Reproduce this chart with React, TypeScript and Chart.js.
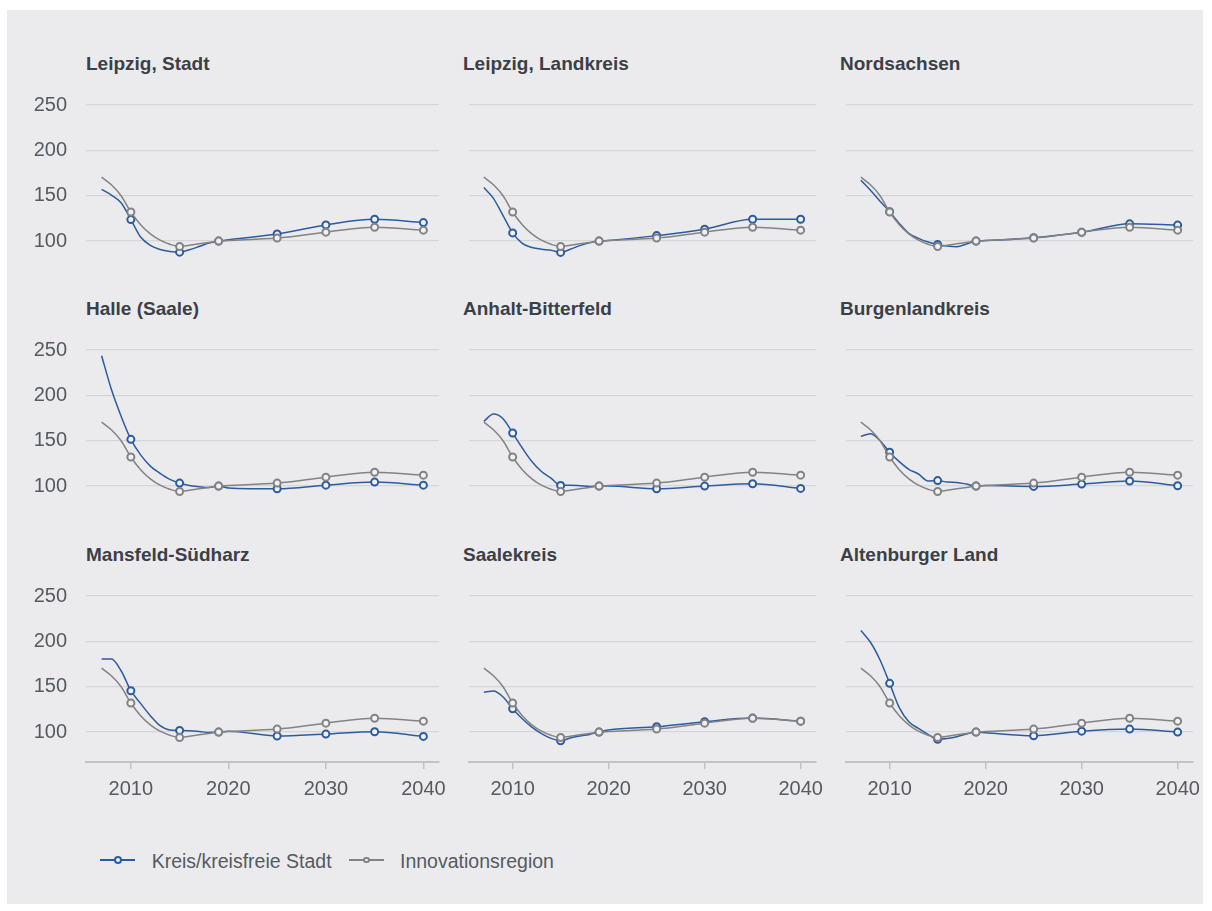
import React, { useEffect, useRef } from "react";
import { Chart, registerables } from "chart.js";

Chart.register(...registerables);

// ---------- data ----------
const years = [2007, 2008, 2009, 2010, 2011, 2012, 2013, 2014, 2015, 2016, 2017, 2018, 2019, 2020, 2025, 2030, 2035, 2040];
const markerYears = [2010, 2015, 2019, 2025, 2030, 2035, 2040];
const xTicks = [2010, 2020, 2030, 2040];
const yTicks = [100, 150, 200, 250];

const innovationsregion = [170.5, 162, 150, 132, 118, 108, 101, 96.5, 94, 95.5, 97, 98.5, 100, 100.6, 103.3, 109.8, 115.2, 112];

const leipzigStadt = [157, 150.7, 142.2, 123.7, 104.4, 95.2, 90.7, 88.5, 87.8, 90.4, 94, 97.8, 100, 101.5, 107.8, 117.8, 124, 120.4];
const leipzigLandkreis = [159, 147, 128, 109, 97.4, 93, 91, 90, 87.5, 91, 95, 98, 100, 100.7, 106, 113, 124, 124];
const nordsachsen = [167, 156, 144, 132.4, 119.5, 108.5, 103, 99, 96.3, 94.5, 93.8, 96.7, 100, 100.5, 103.7, 109.6, 119, 117.6];
const halle = [243.7, 206.7, 177, 151.5, 134.4, 122, 114, 107.4, 103.3, 100.5, 99.3, 98.5, 100, 98, 97, 101, 104.4, 101];
const anhaltBitterfeld = [171.3, 179.4, 174.3, 158.5, 142, 127, 116, 108.8, 100.7, 101, 100.4, 99.6, 100, 100, 97, 100, 102.6, 97.4];
const burgenlandkreis = [154.8, 157.8, 150, 137.4, 127, 118.5, 113.3, 105.6, 106, 104.4, 104, 102.2, 100, 100.5, 99.6, 102.2, 105.6, 100.4];
const mansfeldSuedharz = [180.5, 180.5, 167.6, 145.6, 131.6, 118, 107, 102.2, 101.8, 101.5, 100.7, 99.6, 100, 101, 95.6, 97.8, 100.4, 95.2];
const saalekreis = [143.8, 145.2, 138.6, 125.7, 114.7, 105.5, 98.2, 93, 90.4, 93.4, 95.6, 97.4, 100, 102.2, 105.9, 111.4, 115.4, 112];
const altenburgerLand = [212, 199, 179.4, 153.7, 127, 111.4, 104, 97.4, 92, 93, 94.9, 97.8, 100, 99.3, 96, 101, 103.3, 100];

const panelTitles = [
  "Leipzig, Stadt", "Leipzig, Landkreis", "Nordsachsen",
  "Halle (Saale)", "Anhalt-Bitterfeld", "Burgenlandkreis",
  "Mansfeld-Südharz", "Saalekreis", "Altenburger Land",
];
const panelValues = [
  leipzigStadt, leipzigLandkreis, nordsachsen,
  halle, anhaltBitterfeld, burgenlandkreis,
  mansfeldSuedharz, saalekreis, altenburgerLand,
];
const seriesLabels = ["Kreis/kreisfreie Stadt", "Innovationsregion"];

// ---------- styles ----------
const BLUE = "#2c5c9f";
const GREY = "#838383";
const BG = "#ebebee";
const TEXT = "#555a60";
const TITLE = "#3b4046";
const FONT = "'Liberation Sans', Arial, sans-serif";

const COL_LEFT = [86, 463, 840];
const ROW_TOP = [104.5, 350, 596];
const TITLE_TOP = [53.5, 299.2, 545];
const PLOT_W = 353;
const PLOT_H = 166;
const PAD_T = 14;
const PAD_B = 8;
const PAD_R = 34;
const Y_W = 70;
const X_H = 44;
const X_MIN = 2005.4;
const X_MAX = 2041.6;
const Y_MIN = 67;
const Y_MAX = 250;

function Panel({ index }: { index: number }) {
  const ref = useRef<HTMLCanvasElement | null>(null);
  const row = Math.floor(index / 3);
  const col = index % 3;
  const showY = col === 0;
  const showX = row === 2;
  const yW = showY ? Y_W : 0;
  const xH = showX ? X_H : 0;
  const width = yW + PLOT_W + PAD_R;
  const height = PAD_T + PLOT_H + xH + PAD_B;
  const left = COL_LEFT[col] - yW;
  const top = ROW_TOP[row] - PAD_T;

  useEffect(() => {
    if (!ref.current) return;
    const values = panelValues[index];
    const radius = (ctx: any) => (markerYears.includes(years[ctx.dataIndex]) ? 3.5 : 0);
    const mk = (label: string, vals: number[], color: string, order: number) => ({
      label,
      data: years.map((x, i) => ({ x, y: vals[i] })),
      borderColor: color,
      borderWidth: 1.5,
      pointRadius: radius,
      pointHoverRadius: radius,
      pointBorderWidth: 2,
      pointBorderColor: color,
      pointBackgroundColor: "#f1f1f3",
      cubicInterpolationMode: "monotone" as const,
      fill: false,
      order,
    });
    const tickFont = { family: FONT, size: 20 };
    const chart = new Chart(ref.current, {
      type: "line",
      data: {
        datasets: [
          mk(seriesLabels[0], values, BLUE, 1),
          mk(seriesLabels[1], innovationsregion, GREY, 0),
        ],
      },
      options: {
        animation: false,
        responsive: false,
        maintainAspectRatio: false,
        events: [],
        layout: { padding: { top: PAD_T, bottom: PAD_B, left: 0, right: PAD_R } },
        plugins: {
          legend: { display: false },
          tooltip: { enabled: false },
          title: { display: false },
        },
        scales: {
          x: {
            type: "linear",
            min: X_MIN,
            max: X_MAX,
            afterBuildTicks: (s: any) => {
              s.ticks = xTicks.map((v) => ({ value: v }));
            },
            afterFit: (s: any) => {
              s.height = xH;
              s.paddingLeft = 0;
              s.paddingRight = 0;
            },
            grid: {
              display: showX,
              drawOnChartArea: false,
              drawTicks: true,
              tickLength: 7,
              color: "#c3c3c7",
              lineWidth: 1.5,
            },
            border: { display: showX, color: "#c3c3c7", width: 2 },
            ticks: {
              display: showX,
              padding: 8,
              font: tickFont,
              color: TEXT,
              maxRotation: 0,
              autoSkip: false,
              callback: (v: any) => String(v),
            },
          },
          y: {
            type: "linear",
            min: Y_MIN,
            max: Y_MAX,
            afterBuildTicks: (s: any) => {
              s.ticks = yTicks.map((v) => ({ value: v }));
            },
            afterFit: (s: any) => {
              s.width = yW;
              s.paddingTop = 0;
              s.paddingBottom = 0;
            },
            grid: { color: "#d6d6da", lineWidth: 1.2, drawTicks: false },
            border: { display: false },
            ticks: {
              display: showY,
              padding: 19,
              font: tickFont,
              color: TEXT,
              callback: (v: any) => String(v),
            },
          },
        },
      },
    } as any);
    return () => chart.destroy();
  }, [index]);

  return (
    <>
      <div
        style={{
          position: "absolute",
          left: COL_LEFT[col],
          top: TITLE_TOP[row],
          fontFamily: FONT,
          fontWeight: "bold",
          fontSize: 19,
          lineHeight: "19px",
          color: TITLE,
          whiteSpace: "nowrap",
        }}
      >
        {panelTitles[index]}
      </div>
      <canvas
        ref={ref}
        width={width}
        height={height}
        style={{ position: "absolute", left, top, width, height }}
      />
    </>
  );
}

function LegendItem({ x, textX, color, r, label }: { x: number; textX: number; color: string; r: number; label: string }) {
  return (
    <>
      <div style={{ position: "absolute", left: x, top: 859, width: 35, height: 2, background: color }} />
      <div
        style={{
          position: "absolute",
          left: x + 17.5 - r,
          top: 860 - r,
          width: 2 * r - 4,
          height: 2 * r - 4,
          borderRadius: "50%",
          border: `2px solid ${color}`,
          background: "#f1f1f3",
        }}
      />
      <div
        style={{
          position: "absolute",
          left: textX,
          top: 850.5,
          fontFamily: FONT,
          fontSize: 19.5,
          lineHeight: "20px",
          color: TEXT,
          whiteSpace: "nowrap",
        }}
      >
        {label}
      </div>
    </>
  );
}

export default function App() {
  return (
    <div style={{ position: "absolute", left: 0, top: 0, width: 1212, height: 911, background: "#ffffff", overflow: "hidden" }}>
      <div style={{ position: "absolute", left: 7, top: 10, width: 1196, height: 894, background: BG }} />
      {panelTitles.map((_, i) => (
        <Panel key={i} index={i} />
      ))}
      <LegendItem x={100} textX={151.7} color={BLUE} r={4} label={seriesLabels[0]} />
      <LegendItem x={349} textX={400} color={GREY} r={3.3} label={seriesLabels[1]} />
    </div>
  );
}
